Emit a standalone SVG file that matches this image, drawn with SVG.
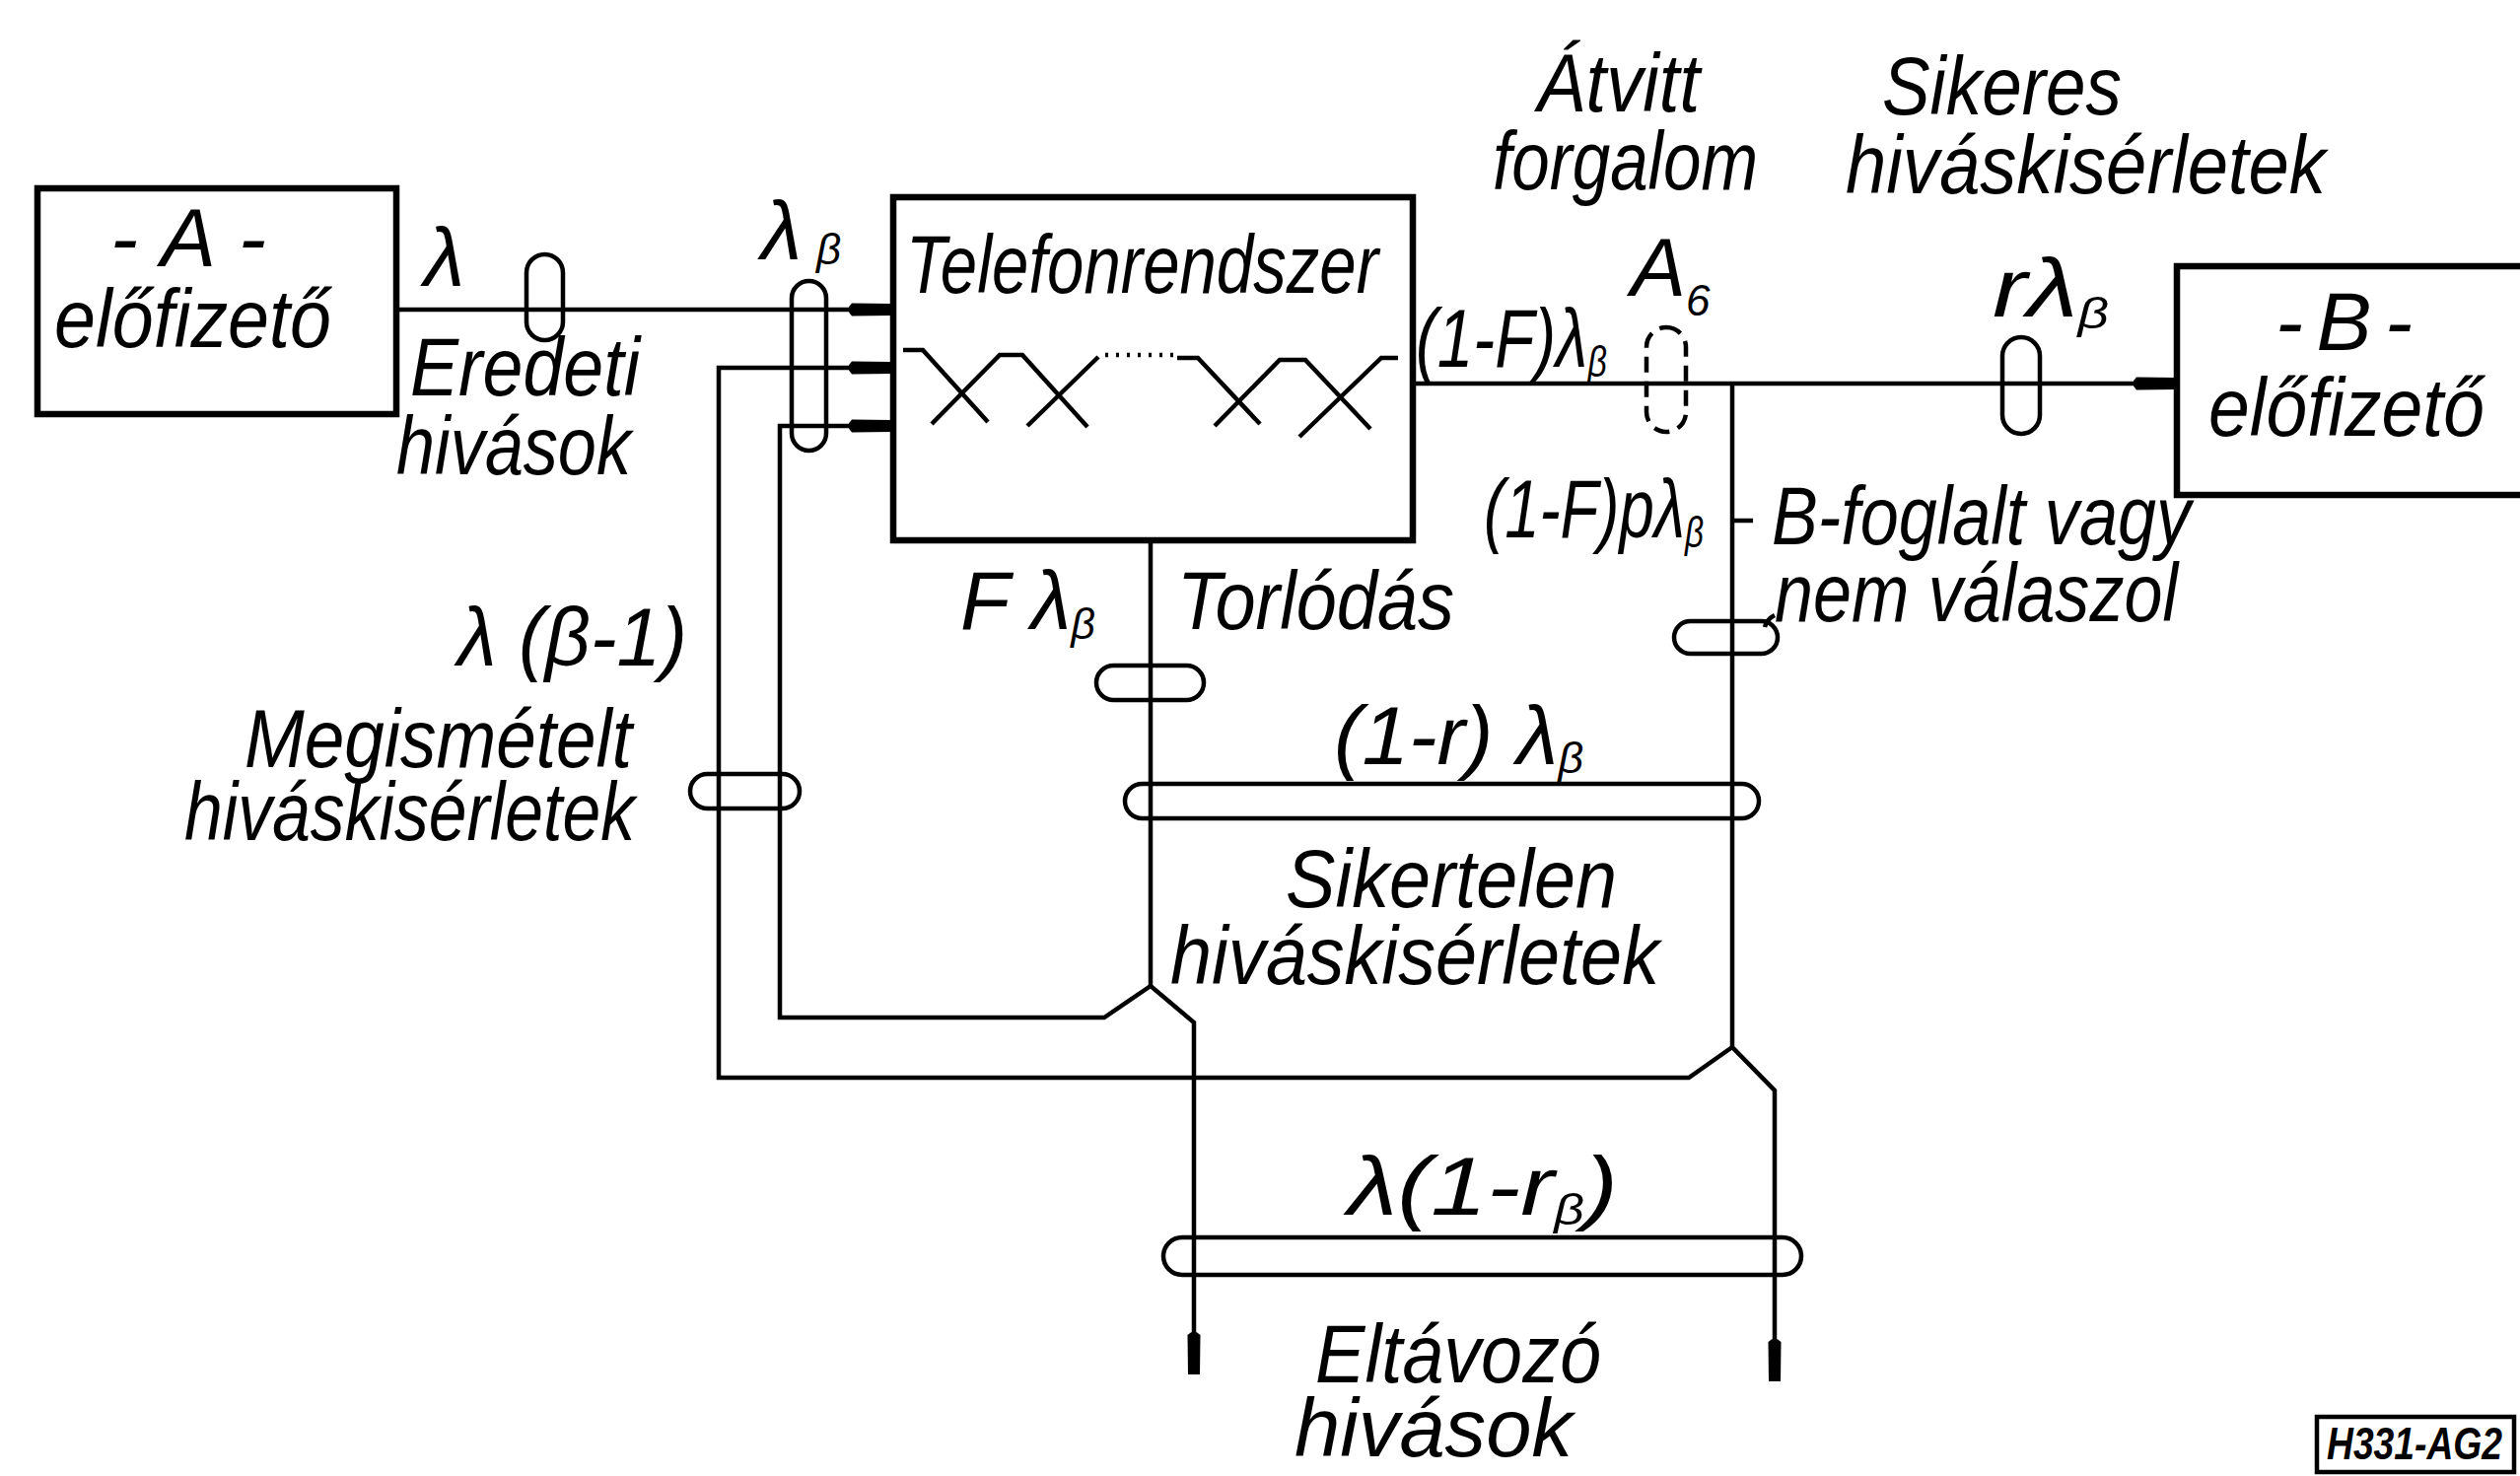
<svg xmlns="http://www.w3.org/2000/svg" width="2556" height="1497" viewBox="0 0 2556 1497">
<defs>
<style>
.box{fill:none;stroke:#000;stroke-width:6.5}
.ln{fill:none;stroke:#000;stroke-width:4.5;stroke-linejoin:miter}
.ov{fill:none;stroke:#000;stroke-width:4.5}
.dash{stroke-dasharray:16 9}
.dot{stroke-dasharray:3 8}
.t{font-family:"Liberation Sans",Arial,sans-serif;font-style:italic;font-size:84px;fill:#000}
.s{font-size:44px}
.m{font-size:46px;font-weight:bold}
</style>
<path id="arr" d="M0,-6 L-40,-6.5 Q-47,0 -40,6.5 L0,6 Z"/>
</defs>
<rect width="2556" height="1497" fill="#fff"/>

<g id="connectors">
<path class="ln" d="M402,314 H902"/>
<path class="ln" d="M1757,1062 L1713,1093 H729 V373 H902"/>
<path class="ln" d="M1167,1000 L1120,1032 H791 V432 H902"/>
<path class="ln" d="M1167,548 V1000 L1211,1037 V1390"/>
<path class="ln" d="M1433,389 H2206"/>
<path class="ln" d="M1757,389 V1062 L1800,1106 V1398"/>
<path class="ln" d="M1757,528 H1778"/>
<path class="ln" d="M1800,624 Q1792,628 1790,636"/>
<use href="#arr" transform="translate(904,314)"/>
<use href="#arr" transform="translate(904,373)"/>
<use href="#arr" transform="translate(904,432)"/>
<use href="#arr" transform="translate(2207,389)"/>
<use href="#arr" transform="translate(1211,1394) rotate(90)"/>
<use href="#arr" transform="translate(1800,1401) rotate(90)"/>
<g id="flow-markers">
<rect class="ov" x="534" y="258" width="37" height="87" rx="18.5"/>
<rect class="ov" x="803" y="285" width="35" height="172" rx="17.5"/>
<rect class="ov dash" x="1670" y="332" width="40" height="106" rx="20"/>
<rect class="ov" x="2031" y="342" width="38" height="98" rx="19"/>
<rect class="ov" x="1112" y="675" width="109" height="35" rx="17.5"/>
<rect class="ov" x="700" y="785" width="111" height="35" rx="17.5"/>
<rect class="ov" x="1698" y="630" width="105" height="33" rx="16.5"/>
<rect class="ov" x="1141" y="795" width="643" height="35" rx="17.5"/>
<rect class="ov" x="1180" y="1255" width="647" height="38" rx="19"/>
</g>
</g>

<g id="node-A">
<rect class="box" x="38" y="191" width="364" height="229"/>
<text class="t" x="112" y="270" textLength="158" lengthAdjust="spacing">-A-</text>
<text class="t" x="55" y="352" textLength="281" lengthAdjust="spacingAndGlyphs">előfizető</text>
</g>

<g id="node-telefon">
<rect class="box" x="906" y="200" width="527" height="348"/>
<text class="t" x="919" y="297" textLength="479" lengthAdjust="spacingAndGlyphs">Telefonrendszer</text>
<path class="ln" d="M916,355 H936 L1002,428 M945,430 L1014,360 H1037 L1103,433 M1042,432 L1114,362 M1194,363 H1215 L1278,430 M1232,432 L1298,365 H1324 L1390,435 M1318,443 L1401,363 H1418"/>
<path class="ln dot" d="M1121,360 H1190"/>
</g>

<g id="node-B">
<rect class="box" x="2208" y="270" width="370" height="232"/>
<text class="t" x="2308" y="355" textLength="139" lengthAdjust="spacing">-B-</text>
<text class="t" x="2240" y="442" textLength="280" lengthAdjust="spacingAndGlyphs">előfizető</text>
</g>

<g id="labels">
<text class="t" x="430" y="290">λ</text>
<text class="t" x="416" y="401" textLength="233" lengthAdjust="spacingAndGlyphs">Eredeti</text>
<text class="t" x="402" y="481" textLength="238" lengthAdjust="spacingAndGlyphs">hivások</text>
<text class="t" x="772" y="263">λ<tspan class="s" x="828" y="268">β</tspan></text>
<text class="t" x="1436" y="372" textLength="194" lengthAdjust="spacingAndGlyphs">(1-F)λ<tspan class="s" dy="10">β</tspan></text>
<text class="t" x="1654" y="300">A<tspan class="s" y="320">6</tspan></text>
<text class="t" x="1559" y="113" textLength="165" lengthAdjust="spacingAndGlyphs">Átvitt</text>
<text class="t" x="1514" y="192" textLength="269" lengthAdjust="spacingAndGlyphs">forgalom</text>
<text class="t" x="1909" y="116" textLength="243" lengthAdjust="spacingAndGlyphs">Sikeres</text>
<text class="t" x="1872" y="196" textLength="487" lengthAdjust="spacingAndGlyphs">hiváskisérletek</text>
<text class="t" x="2021" y="321" textLength="118" lengthAdjust="spacingAndGlyphs">rλ<tspan class="s" dy="12">β</tspan></text>
<text class="t" x="1505" y="545" textLength="223" lengthAdjust="spacingAndGlyphs">(1-F)pλ<tspan class="s" dy="10">β</tspan></text>
<text class="t" x="1797" y="552" textLength="425" lengthAdjust="spacingAndGlyphs">B-foglalt vagy</text>
<text class="t" x="1800" y="630" textLength="409" lengthAdjust="spacingAndGlyphs">nem válaszol</text>
<text class="t" x="974" y="638" textLength="137" lengthAdjust="spacingAndGlyphs">F λ<tspan class="s" dy="10">β</tspan></text>
<text class="t" x="1194" y="638" textLength="281" lengthAdjust="spacingAndGlyphs">Torlódás</text>
<text class="t" x="464" y="675" textLength="233" lengthAdjust="spacingAndGlyphs">λ (β-1)</text>
<text class="t" x="248" y="778" textLength="393" lengthAdjust="spacingAndGlyphs">Megismételt</text>
<text class="t" x="187" y="852" textLength="457" lengthAdjust="spacingAndGlyphs">hiváskisérletek</text>
<text class="t" x="1353" y="775" textLength="253" lengthAdjust="spacingAndGlyphs">(1-r) λ<tspan class="s" dy="9">β</tspan></text>
<text class="t" x="1304" y="920" textLength="336" lengthAdjust="spacingAndGlyphs">Sikertelen</text>
<text class="t" x="1187" y="998" textLength="496" lengthAdjust="spacingAndGlyphs">hiváskisérletek</text>
<text class="t" x="1367" y="1232" textLength="274" lengthAdjust="spacingAndGlyphs">λ(1-r<tspan class="s" dy="10">β</tspan><tspan dy="-10">)</tspan></text>
<text class="t" x="1334" y="1402" textLength="290" lengthAdjust="spacingAndGlyphs">Eltávozó</text>
<text class="t" x="1313" y="1477" textLength="282" lengthAdjust="spacingAndGlyphs">hivások</text>
</g>

<g id="stamp">
<rect class="ln" x="2350" y="1437" width="200" height="56"/>
<text class="t m" x="2360" y="1480" textLength="178" lengthAdjust="spacingAndGlyphs">H331-AG2</text>
</g>
</svg>
